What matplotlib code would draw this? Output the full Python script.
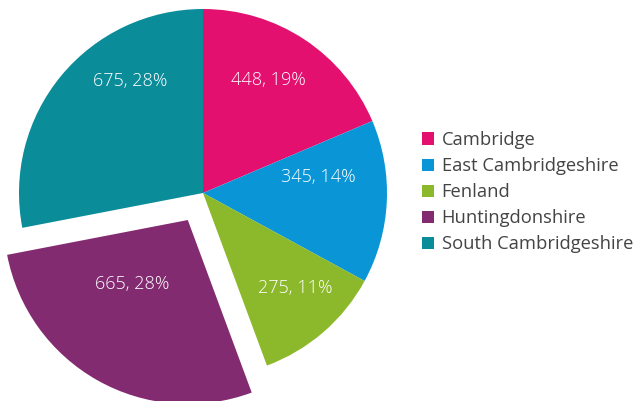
import matplotlib
matplotlib.use("Agg")
import matplotlib.pyplot as plt
from matplotlib.patches import Patch

# data
districts = ["Cambridge", "East Cambridgeshire", "Fenland", "Huntingdonshire", "South Cambridgeshire"]
counts = [448, 345, 275, 665, 675]
colours = ["#E3106F", "#0A96D6", "#8CB82B", "#832B70", "#0A8C99"]
explode = [0, 0, 0, 31, 0]  # matplotlib uses data units here

# where the value labels sit (pixels from top-left, as in the source chart)
label_pos = [(268, 80), (318, 177), (295, 288), (132, 284), (130, 81)]

plt.rcParams['font.family'] = ['Open Sans', 'DejaVu Sans']

fig = plt.figure(figsize=(6.35, 4.01), dpi=100)
ax = fig.add_axes([0, 0, 1, 1])

total = sum(counts)

def fmt(pct):
    val = int(round(pct * total / 100.0))
    return f"{val}, {pct:.0f}%"

wedges, texts, autotexts = ax.pie(
    counts, colors=colours, explode=explode, startangle=90, counterclock=False,
    center=(203, 208), radius=184, autopct=fmt, pctdistance=0.7,
    textprops=dict(color='white', fontsize=13, fontweight='light'),
    wedgeprops=dict(linewidth=0), frame=True)
for t, (px, py) in zip(autotexts, label_pos):
    t.set_position((px, 401 - py))

ax.set_xlim(0, 635)
ax.set_ylim(0, 401)
ax.axis('off')

handles = [Patch(facecolor=c, edgecolor='none') for c in colours]
leg = ax.legend(handles, districts, loc='upper left', bbox_to_anchor=(422 / 635, 1 - 131 / 401),
                bbox_transform=fig.transFigure, frameon=False, fontsize=13.2,
                handlelength=0.65, handleheight=0.65, handletextpad=0.42,
                labelspacing=0.44, borderaxespad=0, borderpad=0)
for t in leg.get_texts():
    t.set_color('#444444')

fig.savefig("out.png", dpi=100)
